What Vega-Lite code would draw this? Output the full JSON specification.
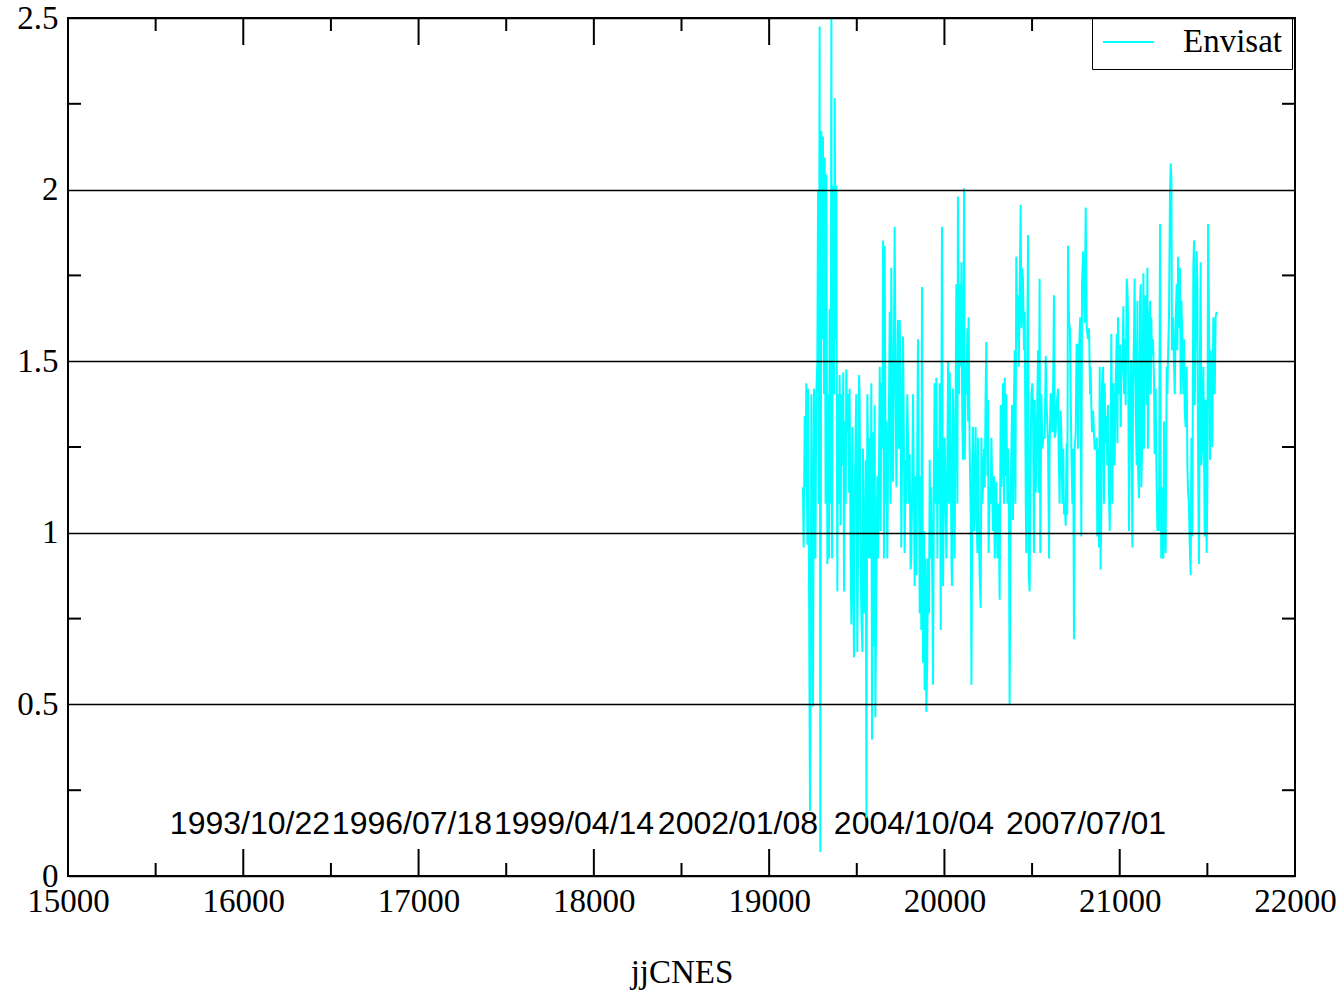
{
  "$schema": "https://vega.github.io/schema/vega-lite/v6.json",
  "width": 1227,
  "height": 858,
  "autosize": {"type": "none"},
  "padding": {"left": 68, "top": 18, "right": 49, "bottom": 116},
  "background": "white",
  "config": {
    "view": {"stroke": "black", "strokeWidth": 2},
    "font": "Liberation Serif"
  },
  "datasets": {
    "series": [
      {"jj":19193,"value":1.133},{"jj":19197,"value":0.957},{"jj":19203,"value":1.34},{"jj":19207,"value":1.133},{"jj":19212,"value":1.436},{"jj":19218,"value":0.965},{"jj":19222,"value":1.42},{"jj":19227,"value":0.925},{"jj":19233,"value":0.19},{"jj":19237,"value":0.637},{"jj":19241,"value":1.404},{"jj":19246,"value":0.925},{"jj":19250,"value":0.494},{"jj":19256,"value":1.42},{"jj":19264,"value":0.925},{"jj":19269,"value":1.404},{"jj":19275,"value":1.5},{"jj":19279,"value":1.996},{"jj":19283,"value":1.085},{"jj":19288,"value":2.475},{"jj":19292,"value":0.07},{"jj":19298,"value":2.171},{"jj":19303,"value":1.564},{"jj":19307,"value":2.155},{"jj":19313,"value":1.404},{"jj":19317,"value":2.092},{"jj":19322,"value":1.085},{"jj":19326,"value":2.044},{"jj":19332,"value":0.909},{"jj":19336,"value":1.404},{"jj":19342,"value":0.925},{"jj":19345,"value":1.652},{"jj":19351,"value":1.085},{"jj":19355,"value":2.5},{"jj":19359,"value":0.925},{"jj":19364,"value":2.012},{"jj":19370,"value":1.404},{"jj":19374,"value":2.267},{"jj":19380,"value":1.564},{"jj":19383,"value":2.012},{"jj":19389,"value":0.829},{"jj":19393,"value":1.404},{"jj":19399,"value":1.085},{"jj":19402,"value":1.46},{"jj":19408,"value":1.021},{"jj":19412,"value":1.404},{"jj":19418,"value":1.197},{"jj":19423,"value":1.468},{"jj":19427,"value":0.829},{"jj":19431,"value":1.324},{"jj":19437,"value":1.085},{"jj":19440,"value":1.476},{"jj":19446,"value":1.293},{"jj":19450,"value":1.404},{"jj":19456,"value":1.117},{"jj":19459,"value":1.42},{"jj":19465,"value":0.925},{"jj":19469,"value":0.733},{"jj":19475,"value":1.308},{"jj":19478,"value":1.005},{"jj":19484,"value":0.637},{"jj":19488,"value":1.085},{"jj":19494,"value":1.316},{"jj":19497,"value":1.404},{"jj":19503,"value":0.653},{"jj":19507,"value":0.925},{"jj":19513,"value":1.46},{"jj":19516,"value":1.404},{"jj":19522,"value":0.925},{"jj":19526,"value":0.765},{"jj":19532,"value":0.653},{"jj":19535,"value":1.245},{"jj":19541,"value":0.765},{"jj":19545,"value":0.925},{"jj":19551,"value":1.213},{"jj":19555,"value":0.17},{"jj":19560,"value":1.404},
      {"jj":19564,"value":1.245},{"jj":19570,"value":0.925},{"jj":19574,"value":1.277},{"jj":19579,"value":0.925},{"jj":19583,"value":1.436},{"jj":19587,"value":0.398},{"jj":19593,"value":1.293},{"jj":19598,"value":0.669},{"jj":19602,"value":1.372},{"jj":19606,"value":0.462},{"jj":19612,"value":0.877},{"jj":19617,"value":1.165},{"jj":19621,"value":0.925},{"jj":19627,"value":1.213},{"jj":19631,"value":1.484},{"jj":19636,"value":1.005},{"jj":19640,"value":1.436},{"jj":19646,"value":1.245},{"jj":19650,"value":1.852},{"jj":19655,"value":0.925},{"jj":19659,"value":1.836},{"jj":19665,"value":1.085},{"jj":19669,"value":1.324},{"jj":19674,"value":0.925},{"jj":19678,"value":1.165},{"jj":19684,"value":1.404},{"jj":19688,"value":1.644},{"jj":19693,"value":1.085},{"jj":19697,"value":1.772},{"jj":19703,"value":1.245},{"jj":19707,"value":1.149},{"jj":19712,"value":1.564},{"jj":19716,"value":1.892},{"jj":19722,"value":1.404},{"jj":19726,"value":1.133},{"jj":19731,"value":1.404},{"jj":19735,"value":1.62},{"jj":19741,"value":1.245},{"jj":19745,"value":1.62},{"jj":19750,"value":1.404},{"jj":19754,"value":0.957},{"jj":19760,"value":1.324},{"jj":19764,"value":1.572},{"jj":19769,"value":1.245},{"jj":19773,"value":0.941},{"jj":19779,"value":1.213},{"jj":19783,"value":1.085},{"jj":19788,"value":1.404},{"jj":19792,"value":1.277},{"jj":19798,"value":1.085},{"jj":19802,"value":1.229},{"jj":19807,"value":0.893},{"jj":19811,"value":0.925},{"jj":19817,"value":1.165},{"jj":19821,"value":1.404},{"jj":19826,"value":1.085},{"jj":19830,"value":0.845},{"jj":19836,"value":1.165},{"jj":19840,"value":0.877},{"jj":19845,"value":1.245},{"jj":19849,"value":1.564},{"jj":19855,"value":1.085},{"jj":19859,"value":0.765},{"jj":19864,"value":1.165},{"jj":19868,"value":0.717},{"jj":19872,"value":1.716},{"jj":19878,"value":0.621},{"jj":19884,"value":1.005},{"jj":19887,"value":0.541},{"jj":19893,"value":0.925},{"jj":19897,"value":0.478},{"jj":19902,"value":0.637},{"jj":19906,"value":0.925},{"jj":19912,"value":0.765},{"jj":19916,"value":1.213},{"jj":19921,"value":0.925},{"jj":19925,"value":1.133},{"jj":19931,"value":0.845},{"jj":19935,"value":0.557},{"jj":19940,"value":1.165},{"jj":19944,"value":1.436},{"jj":19950,"value":1.085},{"jj":19954,"value":1.452},{"jj":19960,"value":0.925},
      {"jj":19963,"value":1.245},{"jj":19969,"value":1.085},{"jj":19973,"value":1.436},{"jj":19979,"value":0.717},{"jj":19982,"value":1.245},{"jj":19986,"value":1.892},{"jj":19992,"value":0.845},{"jj":19998,"value":1.165},{"jj":20001,"value":1.277},{"jj":20007,"value":1.085},{"jj":20011,"value":0.925},{"jj":20017,"value":1.245},{"jj":20021,"value":1.5},{"jj":20026,"value":1.085},{"jj":20030,"value":1.468},{"jj":20036,"value":1.245},{"jj":20040,"value":0.925},{"jj":20043,"value":0.845},{"jj":20049,"value":1.42},{"jj":20055,"value":1.165},{"jj":20058,"value":0.925},{"jj":20064,"value":1.404},{"jj":20068,"value":1.724},{"jj":20074,"value":1.085},{"jj":20077,"value":1.98},{"jj":20083,"value":1.404},{"jj":20087,"value":1.724},{"jj":20093,"value":1.484},{"jj":20097,"value":1.788},{"jj":20102,"value":1.324},{"jj":20106,"value":1.213},{"jj":20112,"value":2.004},{"jj":20116,"value":1.213},{"jj":20121,"value":1.484},{"jj":20125,"value":1.404},{"jj":20131,"value":1.596},{"jj":20135,"value":1.324},{"jj":20138,"value":1.628},{"jj":20144,"value":1.245},{"jj":20150,"value":1.053},{"jj":20154,"value":0.557},{"jj":20159,"value":1.149},{"jj":20163,"value":1.308},{"jj":20169,"value":1.005},{"jj":20173,"value":1.053},{"jj":20178,"value":1.308},{"jj":20182,"value":1.085},{"jj":20188,"value":0.941},{"jj":20192,"value":1.277},{"jj":20197,"value":1.005},{"jj":20201,"value":0.877},{"jj":20207,"value":0.781},{"jj":20211,"value":1.277},{"jj":20216,"value":1.085},{"jj":20220,"value":1.133},{"jj":20226,"value":1.245},{"jj":20230,"value":1.133},{"jj":20235,"value":1.404},{"jj":20239,"value":1.556},{"jj":20245,"value":1.165},{"jj":20249,"value":1.388},{"jj":20252,"value":0.941},{"jj":20258,"value":1.133},{"jj":20264,"value":1.085},{"jj":20268,"value":1.277},{"jj":20273,"value":1.117},{"jj":20277,"value":1.005},{"jj":20283,"value":1.165},{"jj":20287,"value":0.925},{"jj":20292,"value":1.085},{"jj":20296,"value":1.149},{"jj":20302,"value":0.925},{"jj":20306,"value":1.085},{"jj":20311,"value":1.005},{"jj":20315,"value":0.805},{"jj":20321,"value":1.372},{"jj":20325,"value":1.133},{"jj":20330,"value":1.245},{"jj":20334,"value":1.436},{"jj":20340,"value":1.085},{"jj":20344,"value":1.452},{"jj":20350,"value":1.165},{"jj":20353,"value":1.404},{"jj":20359,"value":1.085},
      {"jj":20363,"value":1.245},{"jj":20368,"value":1.053},{"jj":20372,"value":0.5},{"jj":20378,"value":1.117},{"jj":20382,"value":1.245},{"jj":20386,"value":1.372},{"jj":20391,"value":1.037},{"jj":20397,"value":1.404},{"jj":20401,"value":1.532},{"jj":20405,"value":1.085},{"jj":20410,"value":1.804},{"jj":20416,"value":1.564},{"jj":20420,"value":1.692},{"jj":20424,"value":1.484},{"jj":20429,"value":1.692},{"jj":20435,"value":1.956},{"jj":20439,"value":1.596},{"jj":20443,"value":1.772},{"jj":20448,"value":1.74},{"jj":20454,"value":1.532},{"jj":20458,"value":1.644},{"jj":20464,"value":1.085},{"jj":20467,"value":0.941},{"jj":20471,"value":1.404},{"jj":20477,"value":1.868},{"jj":20481,"value":0.877},{"jj":20486,"value":0.829},{"jj":20492,"value":1.245},{"jj":20496,"value":1.404},{"jj":20502,"value":1.436},{"jj":20505,"value":1.372},{"jj":20511,"value":0.941},{"jj":20515,"value":1.388},{"jj":20521,"value":1.117},{"jj":20526,"value":1.245},{"jj":20534,"value":1.532},{"jj":20538,"value":1.117},{"jj":20543,"value":1.74},{"jj":20547,"value":0.941},{"jj":20553,"value":1.404},{"jj":20559,"value":1.245},{"jj":20564,"value":1.277},{"jj":20572,"value":1.277},{"jj":20578,"value":1.516},{"jj":20583,"value":1.372},{"jj":20591,"value":1.261},{"jj":20597,"value":0.925},{"jj":20600,"value":1.245},{"jj":20606,"value":1.404},{"jj":20610,"value":1.404},{"jj":20616,"value":1.293},{"jj":20621,"value":1.468},{"jj":20625,"value":1.692},{"jj":20629,"value":1.277},{"jj":20635,"value":1.293},{"jj":20640,"value":1.372},{"jj":20648,"value":1.42},{"jj":20652,"value":1.229},{"jj":20657,"value":1.085},{"jj":20663,"value":1.356},{"jj":20667,"value":1.293},{"jj":20673,"value":1.085},{"jj":20678,"value":1.245},{"jj":20682,"value":1.053},{"jj":20686,"value":1.085},{"jj":20692,"value":1.021},{"jj":20697,"value":1.261},{"jj":20701,"value":1.053},{"jj":20705,"value":1.836},{"jj":20711,"value":1.612},{"jj":20716,"value":1.596},{"jj":20724,"value":1.245},{"jj":20730,"value":1.085},{"jj":20735,"value":1.245},{"jj":20739,"value":0.69},{"jj":20743,"value":1.245},{"jj":20749,"value":1.293},{"jj":20754,"value":1.548},{"jj":20760,"value":1.548},
      {"jj":20762,"value":1.245},{"jj":20768,"value":1.516},{"jj":20774,"value":1.628},{"jj":20777,"value":1.404},{"jj":20781,"value":0.989},{"jj":20785,"value":1.724},{"jj":20791,"value":1.82},{"jj":20796,"value":1.724},{"jj":20800,"value":1.612},{"jj":20806,"value":1.948},{"jj":20812,"value":1.596},{"jj":20819,"value":1.564},{"jj":20825,"value":1.596},{"jj":20831,"value":1.404},{"jj":20834,"value":1.484},{"jj":20838,"value":1.372},{"jj":20842,"value":1.293},{"jj":20848,"value":1.356},{"jj":20853,"value":1.293},{"jj":20857,"value":1.245},{"jj":20863,"value":1.245},{"jj":20869,"value":1.277},{"jj":20872,"value":0.989},{"jj":20876,"value":1.245},{"jj":20882,"value":0.957},{"jj":20886,"value":1.484},{"jj":20891,"value":0.893},{"jj":20895,"value":1.069},{"jj":20899,"value":1.436},{"jj":20905,"value":1.484},{"jj":20910,"value":1.085},{"jj":20914,"value":1.436},{"jj":20920,"value":1.261},{"jj":20926,"value":1.34},{"jj":20929,"value":1.197},{"jj":20933,"value":1.372},{"jj":20937,"value":1.165},{"jj":20943,"value":1.005},{"jj":20949,"value":1.308},{"jj":20952,"value":1.58},{"jj":20958,"value":1.085},{"jj":20964,"value":1.436},{"jj":20968,"value":1.245},{"jj":20971,"value":1.197},{"jj":20977,"value":1.436},{"jj":20983,"value":1.58},{"jj":20987,"value":1.261},{"jj":20990,"value":1.628},{"jj":20996,"value":1.404},{"jj":21002,"value":1.548},{"jj":21006,"value":1.308},{"jj":21009,"value":1.436},{"jj":21015,"value":1.5},{"jj":21021,"value":1.66},{"jj":21025,"value":1.404},{"jj":21028,"value":1.564},{"jj":21034,"value":1.372},{"jj":21040,"value":1.74},{"jj":21044,"value":1.708},{"jj":21047,"value":1.644},{"jj":21053,"value":1.005},{"jj":21059,"value":1.372},{"jj":21063,"value":1.5},{"jj":21066,"value":1.5},{"jj":21072,"value":0.957},{"jj":21076,"value":1.404},{"jj":21082,"value":1.596},{"jj":21085,"value":1.74},{"jj":21091,"value":1.372},{"jj":21097,"value":1.197},{"jj":21101,"value":1.676},{"jj":21104,"value":1.197},{"jj":21110,"value":1.101},{"jj":21116,"value":1.676},{"jj":21120,"value":1.724},{"jj":21123,"value":1.133},{"jj":21129,"value":1.277},{"jj":21135,"value":1.756},{"jj":21139,"value":1.245},{"jj":21142,"value":1.628},{"jj":21148,"value":1.692},{"jj":21154,"value":1.372},{"jj":21158,"value":1.772},
      {"jj":21161,"value":1.245},{"jj":21167,"value":1.58},{"jj":21173,"value":1.676},{"jj":21177,"value":1.404},{"jj":21180,"value":1.628},{"jj":21184,"value":1.516},{"jj":21190,"value":1.564},{"jj":21196,"value":1.436},{"jj":21199,"value":1.229},{"jj":21205,"value":1.42},{"jj":21209,"value":1.197},{"jj":21215,"value":1.005},{"jj":21218,"value":1.117},{"jj":21224,"value":1.005},{"jj":21230,"value":1.9},{"jj":21234,"value":1.181},{"jj":21237,"value":0.925},{"jj":21243,"value":1.133},{"jj":21249,"value":0.925},{"jj":21253,"value":1.324},{"jj":21256,"value":1.085},{"jj":21262,"value":0.941},{"jj":21268,"value":1.484},{"jj":21272,"value":1.404},{"jj":21275,"value":1.5},{"jj":21281,"value":1.628},{"jj":21287,"value":1.996},{"jj":21291,"value":2.076},{"jj":21295,"value":2.028},{"jj":21298,"value":1.532},{"jj":21304,"value":1.628},{"jj":21310,"value":1.484},{"jj":21314,"value":1.404},{"jj":21319,"value":1.612},{"jj":21325,"value":1.724},{"jj":21329,"value":1.532},{"jj":21333,"value":1.804},{"jj":21338,"value":1.596},{"jj":21344,"value":1.772},{"jj":21348,"value":1.404},{"jj":21352,"value":1.676},{"jj":21357,"value":1.564},{"jj":21363,"value":1.404},{"jj":21367,"value":1.564},{"jj":21371,"value":1.356},{"jj":21376,"value":1.308},{"jj":21382,"value":1.484},{"jj":21386,"value":1.197},{"jj":21390,"value":1.117},{"jj":21395,"value":1.085},{"jj":21399,"value":0.973},{"jj":21405,"value":0.877},{"jj":21409,"value":1.277},{"jj":21414,"value":0.989},{"jj":21420,"value":1.772},{"jj":21424,"value":1.852},{"jj":21428,"value":1.372},{"jj":21433,"value":1.596},{"jj":21439,"value":1.82},{"jj":21443,"value":1.724},{"jj":21447,"value":1.213},{"jj":21452,"value":0.909},{"jj":21458,"value":1.532},{"jj":21462,"value":1.788},{"jj":21466,"value":1.197},{"jj":21471,"value":1.261},{"jj":21477,"value":1.484},{"jj":21485,"value":0.989},{"jj":21490,"value":1.388},{"jj":21496,"value":0.941},{"jj":21500,"value":1.133},{"jj":21504,"value":1.9},{"jj":21509,"value":1.66},{"jj":21515,"value":1.213},{"jj":21519,"value":1.532},{"jj":21523,"value":1.404},{"jj":21528,"value":1.25},{"jj":21534,"value":1.628},{"jj":21538,"value":1.564},{"jj":21542,"value":1.404},{"jj":21547,"value":1.628},{"jj":21553,"value":1.644}
    ],
    "dates": [
      {"jj":16038,"value":0.1515,"label":"1993/10/22"},
      {"jj":16962,"value":0.1515,"label":"1996/07/18"},
      {"jj":17887,"value":0.1515,"label":"1999/04/14"},
      {"jj":18822,"value":0.1515,"label":"2002/01/08"},
      {"jj":19826,"value":0.1515,"label":"2004/10/04"},
      {"jj":20808,"value":0.1515,"label":"2007/07/01"}
    ],
    "xmajor": [
      {"jj":16000,"value":0},{"jj":17000,"value":0},{"jj":18000,"value":0},{"jj":19000,"value":0},{"jj":20000,"value":0},{"jj":21000,"value":0},
      {"jj":16000,"value":2.5},{"jj":17000,"value":2.5},{"jj":18000,"value":2.5},{"jj":19000,"value":2.5},{"jj":20000,"value":2.5},{"jj":21000,"value":2.5}
    ],
    "xminor": [
      {"jj":15500,"value":0},{"jj":16500,"value":0},{"jj":17500,"value":0},{"jj":18500,"value":0},{"jj":19500,"value":0},{"jj":20500,"value":0},{"jj":21500,"value":0},
      {"jj":15500,"value":2.5},{"jj":16500,"value":2.5},{"jj":17500,"value":2.5},{"jj":18500,"value":2.5},{"jj":19500,"value":2.5},{"jj":20500,"value":2.5},{"jj":21500,"value":2.5}
    ],
    "yminor": [
      {"jj":15000,"value":0.25},{"jj":15000,"value":0.75},{"jj":15000,"value":1.25},{"jj":15000,"value":1.75},{"jj":15000,"value":2.25},
      {"jj":22000,"value":0.25},{"jj":22000,"value":0.75},{"jj":22000,"value":1.25},{"jj":22000,"value":1.75},{"jj":22000,"value":2.25}
    ]
  },
  "encoding": {
    "x": {
      "field": "jj", "type": "quantitative",
      "scale": {"domain": [15000, 22000], "nice": false, "zero": false},
      "axis": {
        "values": [15000, 16000, 17000, 18000, 19000, 20000, 21000, 22000],
        "format": "d", "ticks": false, "domain": false, "grid": false,
        "labelFont": "Liberation Serif", "labelFontSize": 33, "labelColor": "black",
        "labelPadding": 9, "labelFlush": false, "labelOverlap": false,
        "title": "jjCNES", "titleFont": "Liberation Serif", "titleFontSize": 33,
        "titleFontWeight": "normal", "titleColor": "black", "titlePadding": 38
      }
    },
    "y": {
      "field": "value", "type": "quantitative",
      "scale": {"domain": [0, 2.5], "nice": false, "zero": false},
      "axis": {
        "values": [0, 0.5, 1, 1.5, 2, 2.5],
        "format": "~g", "ticks": false, "domain": false,
        "grid": true, "gridColor": "black", "gridWidth": 1.5, "gridOpacity": 1,
        "labelFont": "Liberation Serif", "labelFontSize": 33, "labelColor": "black",
        "labelPadding": 10, "labelFlush": false, "labelOverlap": false,
        "title": null, "zindex": 1
      }
    }
  },
  "layer": [
    {
      "data": {"name": "dates"},
      "mark": {"type": "text", "font": "Liberation Sans", "fontSize": 32, "align": "center", "baseline": "middle", "color": "black"},
      "encoding": {"text": {"field": "label"}}
    },
    {
      "data": {"name": "series"},
      "mark": {"type": "line", "clip": true, "strokeWidth": 2},
      "encoding": {
        "color": {
          "datum": "Envisat", "type": "nominal",
          "scale": {"domain": ["Envisat"], "range": ["#00ffff"]},
          "legend": {
            "title": null, "orient": "none", "legendX": 1024, "legendY": 0,
            "symbolType": "stroke", "symbolSize": 2601, "symbolStrokeWidth": 2,
            "labelFont": "Liberation Serif", "labelFontSize": 33, "labelColor": "black",
            "labelOffset": 28, "padding": 10, "clipHeight": 28,
            "strokeColor": "black", "fillColor": "white", "labelLimit": 300
          }
        }
      }
    },
    {
      "data": {"name": "xmajor"},
      "mark": {"type": "tick", "orient": "vertical", "size": 54, "thickness": 2, "color": "black", "clip": true, "opacity": 1}
    },
    {
      "data": {"name": "xminor"},
      "mark": {"type": "tick", "orient": "vertical", "size": 26, "thickness": 2, "color": "black", "clip": true, "opacity": 1}
    },
    {
      "data": {"name": "yminor"},
      "mark": {"type": "tick", "orient": "horizontal", "size": 26, "thickness": 2, "color": "black", "clip": true, "opacity": 1}
    }
  ]
}
